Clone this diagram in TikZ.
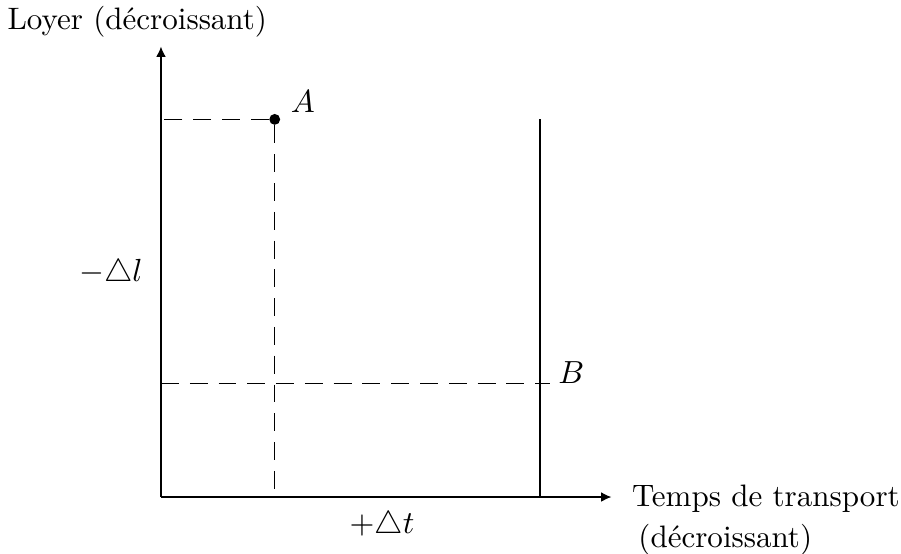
\documentclass[tikz,border=0pt]{standalone}
\usepackage{tikz}
\usetikzlibrary{arrows.meta,positioning}

\begin{document}
\begin{tikzpicture}[
    axis line/.style={-{Latex[length=3.2pt,width=3pt]}, line width=0.4pt},
    guide/.style={dash pattern=on 5.6pt off 3.4pt, line width=0.4pt},
    point/.style={circle, fill=black, inner sep=0pt, minimum size=3.4pt},
    tag/.style={inner sep=0pt, font=\fontsize{9.7}{11.6}\selectfont}
]

\useasboundingbox (-1.769,-0.626) rectangle (8.132,5.462);

% Axes
\coordinate (O) at (0,0);
\coordinate (xend) at (4.95,0);
\coordinate (yend) at (0,4.95);
\draw[axis line] (O) -- (xend);
\draw[axis line] (O) -- (yend);

% Points
\node[point] (A) at (1.25,4.15) {};
\coordinate (Ax) at (1.25,0);
\coordinate (Ay) at (0,4.15);
\coordinate (By) at (0,1.25);
\coordinate (B) at (4.27,1.25);
\coordinate (vtop) at (4.165,4.15);
\coordinate (vbot) at (4.165,0);

% Dashed guides
\draw[guide] (A) -- (Ay);
\draw[guide] (A) -- (Ax);
\draw[guide] (By) -- (B);

% Vertical line
\draw[line width=0.4pt] (vbot) -- (vtop);

% Labels
\node[tag] (labA) at (1.56,4.35) {$A$};
\node[tag, anchor=base west] (labB) at (4.36,1.25) {$B$};
\node[tag] (dl) at (-0.55,2.46) {$-\triangle l$};
\node[tag] (dt) at (2.43,-0.31) {$+\triangle t$};
\node[tag, anchor=base] (ylab) at (-0.26,5.14) {Loyer (décroissant)};
\node[tag, anchor=base west] (xlab) at (5.17,-0.10) {Temps de transport};
\node[tag, anchor=base west] (xlab2) at (5.24,-0.56) {(décroissant)};

\end{tikzpicture}
\end{document}
